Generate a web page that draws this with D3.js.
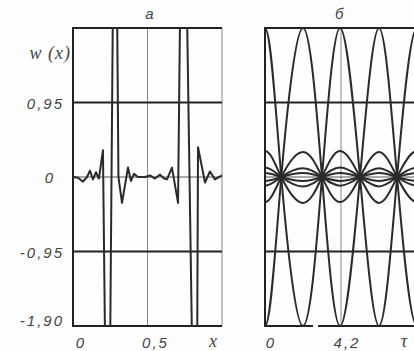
<!DOCTYPE html>
<html lang="en">
<head>
<meta charset="UTF-8">
<title>w(x)</title>
<script src="https://d3js.org/d3.v7.min.js"></script>
<style>
    body { margin: 0; background: #fdfdfd; }
    svg { display: block; }
    .num { font-family: "Liberation Sans", Arial, sans-serif; font-style: italic; font-size: 15px; letter-spacing: 2px; fill: #444; }
    .sym { font-family: "Liberation Serif", serif; font-style: italic; font-size: 18px; fill: #444; }
    .frame { stroke: #222; stroke-width: 2; }
    .thin { stroke: #888; stroke-width: 1; }
    .curve { fill: none; stroke: #2a2a2a; stroke-width: 2; stroke-linejoin: round; }
</style>
</head>
<body>
<svg id="chart" width="414" height="351"></svg>
<script>
// panel a: w(x) samples
const xA = [0, 0.034, 0.067, 0.094, 0.114, 0.134, 0.154, 0.174, 0.201, 0.235, 0.282, 0.305, 0.329,
            0.369, 0.389, 0.409, 0.436, 0.483, 0.517, 0.55, 0.584, 0.611, 0.631, 0.664, 0.705,
            0.738, 0.826, 0.839, 0.886, 0.919, 0.953, 1.0];
const wA = [0, -0.01, -0.06, 0, 0.08, -0.03, 0.06, -0.02, 0.34, -5.5, 5.5, 0, -0.33,
            0.12, -0.05, 0.04, 0, 0, 0.02, -0.02, 0.03, -0.02, -0.03, 0.12, -0.33,
            5.5, -5.5, 0.38, -0.07, 0.07, -0.03, 0.02];

// panel b: knots (extrema and crossings) of the oscillating curves
const tauB = [-1.05, 0, 0.9, 2.1, 3.15, 4.15, 5.25, 6.3, 7.3, 8.4, 9.45];
const bigUp = [0, 1.9, 0, -1.9, 0, 1.9, 0, -1.9, 0, 1.9, 0];
const bigDown = [0, -1.9, 0, 1.9, 0, -1.9, 0, 1.9, 0, -1.9, 0];
const midUp = [0, 0.33, 0, -0.33, 0, 0.33, 0, -0.33, 0, 0.33, 0];
const midDown = [0, -0.32, 0, 0.32, 0, -0.32, 0, 0.32, 0, -0.32, 0];
const smallUp = [0, 0.12, 0, -0.12, 0, 0.12, 0, -0.12, 0, 0.12, 0];
const smallDown = [0, -0.11, 0, 0.11, 0, -0.11, 0, 0.11, 0, -0.11, 0];
const tinyUp = [0, 0.05, 0, -0.05, 0, 0.05, 0, -0.05, 0, 0.05, 0];
const tinyDown = [0, -0.05, 0, 0.05, 0, -0.05, 0, 0.05, 0, -0.05, 0];
const seriesB = [bigUp, bigDown, midUp, midDown, smallUp, smallDown, tinyUp, tinyDown];

// ticks
const yTickVals = [0.95, 0, -0.95, -1.9];
const yTickLabels = ["0,95", "0", "-0,95", "-1,90"];
const xTickValsA = [0, 0.5];
const xTickLabelsA = ["0", "0,5"];
const xTickValsB = [0, 4.2];
const xTickLabelsB = ["0", "4,2"];

const svg = d3.select("#chart");

const y = d3.scaleLinear().domain([-1.9, 1.9]).range([326, 28]);
const xa = d3.scaleLinear().domain([0, 1]).range([73, 222]);
const xb = d3.scaleLinear().domain([0, 8.4]).range([265, 417]);

const defs = svg.append("defs");
defs.append("clipPath").attr("id", "clipA").append("rect")
    .attr("x", xa(0)).attr("y", y(1.9)).attr("width", xa(1) - xa(0)).attr("height", y(-1.9) - y(1.9));
defs.append("clipPath").attr("id", "clipB").append("rect")
    .attr("x", xb(0)).attr("y", y(1.9)).attr("width", xb(8.4) - xb(0)).attr("height", y(-1.9) - y(1.9));

// ---- panel a ----
const ga = svg.append("g");
ga.append("line").attr("class", "thin").attr("x1", xa(0.5)).attr("x2", xa(0.5)).attr("y1", y(1.9)).attr("y2", y(-1.9));
ga.append("line").attr("class", "thin").attr("x1", xa(1)).attr("x2", xa(1)).attr("y1", y(1.9)).attr("y2", y(-1.9));
ga.append("line").attr("stroke", "#555").attr("x1", xa(0)).attr("x2", xa(1)).attr("y1", y(0)).attr("y2", y(0));
[1.9, 0.95, -0.95, -1.9].forEach(v => {
    ga.append("line").attr("class", "frame").attr("x1", xa(0)).attr("x2", xa(1)).attr("y1", y(v)).attr("y2", y(v));
});
ga.append("line").attr("class", "frame").attr("x1", xa(0)).attr("x2", xa(0)).attr("y1", y(1.9) - 1).attr("y2", y(-1.9) + 1);

const lineA = d3.line().x((d, i) => xa(xA[i])).y(d => y(d));
ga.append("path").attr("class", "curve").attr("clip-path", "url(#clipA)").attr("d", lineA(wA));

// ---- panel b ----
const gb = svg.append("g");
gb.append("line").attr("class", "thin").attr("x1", xb(4.2)).attr("x2", xb(4.2)).attr("y1", y(1.9)).attr("y2", y(-1.9));
gb.append("line").attr("stroke", "#555").attr("x1", xb(0)).attr("x2", xb(8.4)).attr("y1", y(0)).attr("y2", y(0));
[1.9, 0.95, -0.95].forEach(v => {
    gb.append("line").attr("class", "frame").attr("x1", xb(0)).attr("x2", xb(8.4)).attr("y1", y(v)).attr("y2", y(v));
});
// bottom border has a small break in the original
gb.append("line").attr("class", "frame").attr("x1", xb(0)).attr("x2", xb(2.65)).attr("y1", y(-1.9)).attr("y2", y(-1.9));
gb.append("line").attr("class", "frame").attr("x1", xb(2.93)).attr("x2", xb(8.4)).attr("y1", y(-1.9)).attr("y2", y(-1.9));
gb.append("line").attr("class", "frame").attr("x1", xb(0)).attr("x2", xb(0)).attr("y1", y(1.9) - 1).attr("y2", y(-1.9) + 1);

const lineB = d3.line().x((d, i) => xb(tauB[i])).y(d => y(d)).curve(d3.curveNatural);
gb.append("g").attr("clip-path", "url(#clipB)")
    .selectAll("path").data(seriesB).join("path")
    .attr("class", "curve").attr("d", lineB);

// ---- texts ----
svg.selectAll(".ylab").data(yTickVals).join("text")
    .attr("class", "num")
    .attr("text-anchor", "end")
    .attr("x", d => d === 0 ? 55 : 64)
    .attr("y", d => Math.min(y(d) + 6, 326))
    .text((d, i) => yTickLabels[i]);

svg.selectAll(".xlabA").data(xTickValsA).join("text")
    .attr("class", "num").attr("text-anchor", "middle")
    .attr("x", d => xa(d) + 8).attr("y", 348)
    .text((d, i) => xTickLabelsA[i]);
svg.selectAll(".xlabB").data(xTickValsB).join("text")
    .attr("class", "num").attr("text-anchor", "middle")
    .attr("x", d => xb(d) + 6).attr("y", 348)
    .text((d, i) => xTickLabelsB[i]);

svg.append("text").attr("class", "sym").attr("text-anchor", "middle").attr("x", xa(0.94)).attr("y", 347).text("x");
svg.append("text").attr("class", "sym").attr("text-anchor", "middle").attr("x", xb(7.68)).attr("y", 347).text("τ");
svg.append("text").attr("class", "sym").attr("text-anchor", "end").attr("x", 71).attr("y", 59)
    .attr("letter-spacing", "1px").text("w (x)");

svg.append("text").attr("class", "num").attr("text-anchor", "middle").attr("x", xa(0.52)).attr("y", 19).text("а");
svg.append("text").attr("class", "num").attr("text-anchor", "middle").attr("x", xb(4.15)).attr("y", 19).text("б");
</script>
</body>
</html>
